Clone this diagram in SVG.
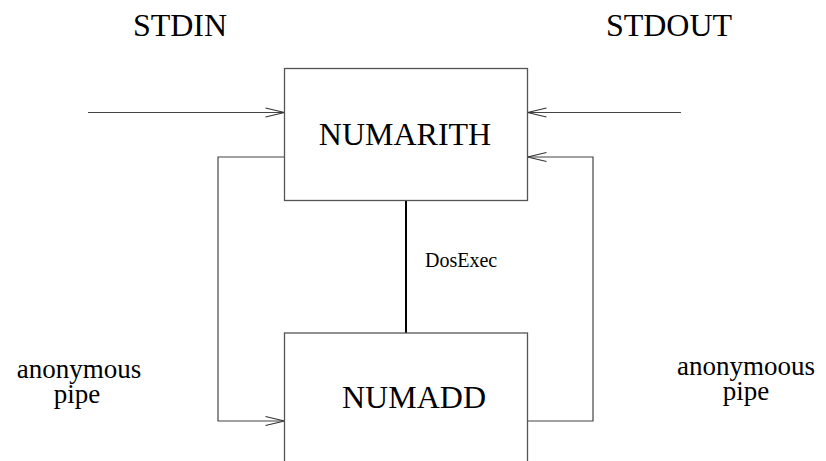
<svg xmlns="http://www.w3.org/2000/svg" width="826" height="461" viewBox="0 0 826 461">
  <defs>
    <!-- open V arrowhead -->
    <marker id="open" markerUnits="userSpaceOnUse" markerWidth="24" markerHeight="14" refX="20" refY="7" orient="auto" overflow="visible">
      <polyline points="1,2.5 20,7 1,11.5" fill="none" stroke="#333" stroke-width="1.2"/>
    </marker>
  </defs>
  <style>
    .box { fill: #fff; stroke: #555; stroke-width: 1.3; }
    .wire { fill: none; stroke: #444; stroke-width: 1.2; }
    .link { fill: none; stroke: #000; stroke-width: 2; }
    text { font-family: 'Liberation Serif', Tinos, 'Times New Roman', Times, 'DejaVu Serif', serif; fill: #000; }
    .big { font-size: 32px; text-anchor: middle; }
    .small { font-size: 27px; text-anchor: middle; }
    .lbl { font-size: 20px; }
  </style>

  <rect width="826" height="461" fill="#fff"/>

  <!-- stream titles -->
  <text class="big" x="180" y="36">STDIN</text>
  <text class="big" x="669" y="36">STDOUT</text>

  <!-- pipe labels -->
  <g id="pipe-left-label">
    <text class="small"><tspan x="79" y="378">anonymous</tspan><tspan x="77" y="403">pipe</tspan></text>
  </g>
  <g id="pipe-right-label">
    <text class="small"><tspan x="746" y="375">anonymoous</tspan><tspan x="746" y="400">pipe</tspan></text>
  </g>

  <!-- connectors -->
  <g id="connectors">
    <line class="wire" x1="88" y1="112.5" x2="284.5" y2="112.5" marker-end="url(#open)"/>
    <line class="wire" x1="681" y1="112.5" x2="527.5" y2="112.5" marker-end="url(#open)"/>
    <polyline class="wire" points="284.5,157 218,157 218,421 284.5,421" marker-end="url(#open)"/>
    <polyline class="wire" points="527.5,421 593,421 593,157 527.5,157" marker-end="url(#open)"/>
    <line class="link" x1="406" y1="200.5" x2="406" y2="333"/>
    <text class="lbl" x="425" y="267">DosExec</text>
  </g>

  <g id="numarith">
    <rect class="box" x="284.5" y="68.5" width="243" height="132"/>
    <text class="big" x="405" y="145">NUMARITH</text>
  </g>

  <g id="numadd">
    <rect class="box" x="284.5" y="333" width="243" height="140"/>
    <text class="big" x="414" y="408">NUMADD</text>
  </g>
</svg>
